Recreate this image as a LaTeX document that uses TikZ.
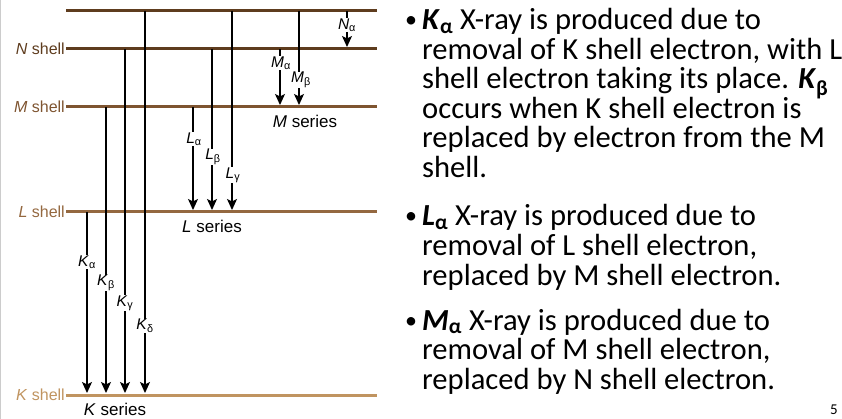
\documentclass[tikz,border=0pt]{standalone}
\usepackage{fontspec}
\setmainfont{Liberation Sans}
\newfontfamily\calfont{Carlito}
\usetikzlibrary{arrows.meta}
\definecolor{sA}{HTML}{5E3C1E}
\definecolor{sM}{HTML}{7E5430}
\definecolor{sL}{HTML}{946840}
\definecolor{sK}{HTML}{C09460}
\begin{document}
\begin{tikzpicture}[x=1pt,y=-1pt,
  shell/.style={line width=3pt},
  shlab/.style={anchor=east,font=\fontsize{16}{16}\selectfont,inner sep=1pt},
  tr/.style={line width=1.3pt,-{Stealth[width=10pt,length=11pt,inset=2.5pt]}},
  tlab/.style={fill=white,inner sep=0.5pt,font=\fontsize{15.5}{15.5}\selectfont},
  ser/.style={font=\fontsize{17}{17}\selectfont,inner sep=0pt},
  bt/.style={anchor=base west,inner sep=0pt,font=\calfont\fontsize{30.6}{30.6}\selectfont},
  bul/.style={anchor=base west,inner sep=0pt,font=\calfont\fontsize{24}{24}\selectfont}]
\useasboundingbox (0,0) rectangle (842,419);
\draw[gray!40,line width=1pt] (0.5,0) -- (0.5,419);
% shells
\coordinate (T0) at (66,11); \coordinate (T1) at (377,11);
\coordinate (N0) at (66,49); \coordinate (N1) at (377,49);
\coordinate (M0) at (66,107); \coordinate (M1) at (377,107);
\coordinate (L0) at (66,212); \coordinate (L1) at (377,212);
\coordinate (K0) at (66,395); \coordinate (K1) at (377,395);
\draw[shell,sA] (T0) -- (T1);
\draw[shell,sA] (N0) -- (N1);
\draw[shell,sM] (M0) -- (M1);
\draw[shell,sL] (L0) -- (L1);
\draw[shell,sK] (K0) -- (K1);
\node[shlab,text=sA] (nN) at (N0) {\textit{N} shell};
\node[shlab,text=sM] (nM) at (M0) {\textit{M} shell};
\node[shlab,text=sL] (nL) at (L0) {\textit{L} shell};
\node[shlab,text=sK] (nK) at (K0) {\textit{K} shell};
% K series
\coordinate (ka0) at (87,212); \coordinate (ka1) at (87,393);
\coordinate (kb0) at (106,107); \coordinate (kb1) at (106,393);
\coordinate (kg0) at (125,49); \coordinate (kg1) at (125,393);
\coordinate (kd0) at (145,11); \coordinate (kd1) at (145,393);
\draw[tr] (ka0) -- (ka1); \draw[tr] (kb0) -- (kb1);
\draw[tr] (kg0) -- (kg1); \draw[tr] (kd0) -- (kd1);
\node[tlab] (lka) at (87,262) {\textit{K}\textsubscript{α}};
\node[tlab] (lkb) at (106,283) {\textit{K}\textsubscript{β}};
\node[tlab] (lkg) at (125,303) {\textit{K}\textsubscript{γ}};
\node[tlab] (lkd) at (145,326) {\textit{K}\textsubscript{δ}};
% L series
\coordinate (la0) at (193,107); \coordinate (la1) at (193,210);
\coordinate (lb0) at (212,49); \coordinate (lb1) at (212,210);
\coordinate (lg0) at (232,11); \coordinate (lg1) at (232,210);
\draw[tr] (la0) -- (la1); \draw[tr] (lb0) -- (lb1); \draw[tr] (lg0) -- (lg1);
\node[tlab] (lla) at (194,139) {\textit{L}\textsubscript{α}};
\node[tlab] (llb) at (213,157) {\textit{L}\textsubscript{β}};
\node[tlab] (llg) at (233,175) {\textit{L}\textsubscript{γ}};
% M series
\coordinate (ma0) at (280,49); \coordinate (ma1) at (280,105);
\coordinate (mb0) at (299,11); \coordinate (mb1) at (299,105);
\draw[tr] (ma0) -- (ma1); \draw[tr] (mb0) -- (mb1);
\node[tlab] (lma) at (281,63) {\textit{M}\textsubscript{α}};
\node[tlab] (lmb) at (301,80) {\textit{M}\textsubscript{β}};
% N
\coordinate (na0) at (347,11); \coordinate (na1) at (347,47);
\draw[tr] (na0) -- (na1);
\node[tlab] (lna) at (347,25) {\textit{N}\textsubscript{α}};
\node[ser] (sm) at (305,121) {\textit{M} series};
\node[ser] (sl) at (212,226) {\textit{L} series};
\node[ser] (sk) at (115,409) {\textit{K} series};
% text
\node[bul] (b1) at (405,28) {•};
\node[bt] (t1) at (422,30) {\textbf{\textit{K}}\textsubscript{\textbf{α}} X-ray is produced due to};
\node[bt] (t2) at (422,59.5) {removal of K shell electron, with L};
\node[bt] (t3) at (422,89) {shell electron taking its place. \textbf{\textit{K}}\textsubscript{\textbf{β}}};
\node[bt] (t4) at (422,118.5) {occurs when K shell electron is};
\node[bt] (t5) at (422,148) {replaced by electron from the M};
\node[bt] (t6) at (422,177.5) {shell.};
\node[bul] (b2) at (405,224) {•};
\node[bt] (u1) at (422,226) {\textbf{\textit{L}}\textsubscript{\textbf{α}} X-ray is produced due to};
\node[bt] (u2) at (422,255.5) {removal of L shell electron,};
\node[bt] (u3) at (422,285) {replaced by M shell electron.};
\node[bul] (b3) at (405,328) {•};
\node[bt] (v1) at (422,330) {\textbf{\textit{M}}\textsubscript{\textbf{α}} X-ray is produced due to};
\node[bt] (v2) at (422,359.5) {removal of M shell electron,};
\node[bt] (v3) at (422,389) {replaced by N shell electron.};
\node[anchor=base east,inner sep=0pt,font=\calfont\fontsize{15}{15}\selectfont] (pg) at (838,414) {5};
\end{tikzpicture}
\end{document}
